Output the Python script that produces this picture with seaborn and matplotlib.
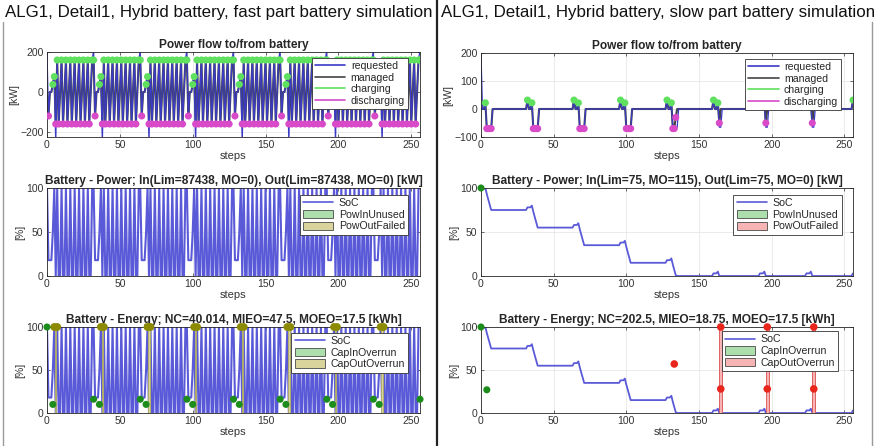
import numpy as np
import pandas as pd
import matplotlib
matplotlib.use("Agg")
import matplotlib.pyplot as plt
import seaborn as sns
from matplotlib.lines import Line2D
from matplotlib.patches import Patch

# ---- data --------------------------------------------------------------
STEPS = list(range(257))          # steps 0..256, one 32-step cycle repeated 8 times after step 0
N_CYCLES = 8

# fast part: one cycle (steps 32k+1 ... 32k+32)
FAST_REQ_CYCLE = [-120, 0, 0, 38, 77, -260,
                  160, -160, 0, 160, -160, 0, 160, -160, 0, 160, -160, 0,
                  160, -160, 0, 160, -160, 0, 160, -160, 0, 160, -160, 0,
                  160, 210]
FAST_MAN_CYCLE = [-120, 0, 0, 38, 77, -160,
                  160, -160, 0, 160, -160, 0, 160, -160, 0, 160, -160, 0,
                  160, -160, 0, 160, -160, 0, 160, -160, 0, 160, -160, 0,
                  160, 160]
FAST_SOC_CYCLE = [18, 18, 18, 50, 100, 0,
                  100, 0, 0, 100, 0, 0, 100, 0, 0, 100, 0, 0,
                  100, 0, 0, 100, 0, 0, 100, 0, 0, 100, 0, 0,
                  100, 100]
FAST_START = [200, 0, 100]        # requested, managed, SoC at step 0

FAST_CAPIN_STEPS = [0, 4, 32, 36, 64, 68, 96, 100, 128, 132, 160, 164, 192, 196, 224, 228, 256]
FAST_CAPIN_VALUES = [100, 10, 16, 10, 16, 10, 16, 10, 16, 10, 16, 10, 16, 10, 16, 10, 16]
FAST_CAPOUT_STEPS = [5, 7, 37, 39, 69, 71, 101, 103, 133, 135, 165, 167, 197, 199, 229, 231]
FAST_CAPOUT_VALUES = [100, 100, 100, 100, 100, 100, 100, 100, 100, 100, 100, 100, 100, 100, 100, 100]
FAST_CAPOUT_BARS = [6, 38, 70, 102, 134, 166, 198, 230]

# slow part: per-cycle events at cycle offsets 0..6 and 31, rest is 0
SLOW_EVENT_J = [0, 1, 2, 3, 4, 5, 6, 31]
SLOW_REQ_EVENTS = [
    [0, 0, 22, -70, -70, -70, -70, 32],
    [0, 0, 22, -70, -70, -70, -70, 32],
    [0, 0, 22, -70, -70, -70, -70, 32],
    [0, 0, 22, -70, -70, -70, -70, 32],
    [0, 0, 22, -70, -70, -70, -65, 32],
    [0, 0, 22, -65, -65, 0, 0, 32],
    [0, 0, 22, -65, -65, 0, 0, 32],
    [0, 0, 22, -65, -65, 0, 0, 32],
]
SLOW_MAN_EVENTS = [
    [0, 0, 22, -70, -70, -70, -70, 32],
    [0, 0, 22, -70, -70, -70, -70, 32],
    [0, 0, 22, -70, -70, -70, -70, 32],
    [0, 0, 22, -70, -70, -70, -70, 32],
    [0, 0, 22, -70, -70, -30, 0, 32],
    [0, 0, 22, -50, 0, 0, 0, 32],
    [0, 0, 22, -50, 0, 0, 0, 32],
    [0, 0, 22, -50, 0, 0, 0, 32],
]
SLOW_START = [200, 0]
SLOW_SOC_RUNS = [(100, 1), (99, 2), (100, 1), (93, 1), (87, 1), (81, 1), (75, 25),
                 (78, 3), (80, 1), (73, 1), (67, 1), (61, 1), (55, 25),
                 (58, 3), (60, 1), (53, 1), (47, 1), (41, 1), (35, 25),
                 (38, 3), (40, 1), (33, 1), (27, 1), (21, 1), (15, 25),
                 (18, 3), (20, 1), (13, 1), (7, 1), (1, 1), (0, 25),
                 (3, 3), (5, 1), (0, 28),
                 (3, 3), (5, 1), (0, 28),
                 (3, 3), (5, 1), (0, 28),
                 (3, 1)]
SLOW_POWIN_STEPS = [0]
SLOW_POWIN_VALUES = [100]
SLOW_CAPIN_STEPS = [0, 4]
SLOW_CAPIN_VALUES = [100, 27]
SLOW_CAPOUT_STEPS = [133, 165, 165, 197, 197, 229, 229]
SLOW_CAPOUT_VALUES = [57, 100, 28, 100, 28, 100, 28]
SLOW_CAPOUT_BARS = [165, 197, 229]

# ---- assemble series ----------------------------------------------------
fast = pd.DataFrame({
    "step": STEPS,
    "requested": [FAST_START[0]] + FAST_REQ_CYCLE * N_CYCLES,
    "managed": [FAST_START[1]] + FAST_MAN_CYCLE * N_CYCLES,
    "soc": [FAST_START[2]] + FAST_SOC_CYCLE * N_CYCLES,
})

slow_req = np.zeros(len(STEPS))
slow_man = np.zeros(len(STEPS))
slow_req[0], slow_man[0] = SLOW_START
for k in range(N_CYCLES):
    for j, vr, vm in zip(SLOW_EVENT_J, SLOW_REQ_EVENTS[k], SLOW_MAN_EVENTS[k]):
        slow_req[1 + 32 * k + j] = vr
        slow_man[1 + 32 * k + j] = vm
slow = pd.DataFrame({
    "step": STEPS,
    "requested": slow_req,
    "managed": slow_man,
    "soc": np.repeat([v for v, n in SLOW_SOC_RUNS], [n for v, n in SLOW_SOC_RUNS]),
})

# ---- style ----------------------------------------------------------------
sns.set_theme(style="whitegrid")
plt.rcParams["font.family"] = ["Liberation Sans", "DejaVu Sans"]
plt.rcParams["grid.color"] = "#e3e3e3"
plt.rcParams["grid.linewidth"] = 0.5

C_REQ = "#3b3bc6"
C_MAN = "#444444"
C_CHG = "#5fe05f"
C_DIS = "#d84ac8"
C_SOC = "#5a5ad8"
C_GREEN_DOT = "#1c8c1c"
C_OLIVE = "#8c8a00"
C_OLIVE_FILL = "#d8d49c"
C_RED = "#e8261c"
C_PINK = "#f7b4b4"
C_GREEN_FILL = "#addfad"

W, H = 874, 446
fig = plt.figure(figsize=(W / 100, H / 100), dpi=100)


def axes_px(x0, y0, x1, y1):
    return fig.add_axes([x0 / W, 1 - y1 / H, (x1 - x0) / W, (y1 - y0) / H])


def style(ax, title, ylabel, yticks, ylim, title_pad):
    ax.set_xlim(0, 256)
    ax.set_ylim(*ylim)
    ax.set_xticks([0, 50, 100, 150, 200, 250])
    ax.set_yticks(yticks)
    ax.set_title(title, fontsize=8.6, fontweight="bold", pad=title_pad)
    ax.set_xlabel("steps", fontsize=8, labelpad=0.5, color="#333333")
    ax.set_ylabel(ylabel, fontsize=7.5, labelpad=1, color="#333333")
    ax.tick_params(labelsize=7.5, colors="#333333", direction="in", length=2, width=0.5,
                   pad=2.5, bottom=True, left=True, top=True, right=True)
    for s in ax.spines.values():
        s.set_color("#262626")
        s.set_linewidth(0.6)
    ax.grid(True)


def legend(ax, handles, anchor):
    leg = ax.legend(handles=handles, loc="upper right", bbox_to_anchor=anchor,
                    fontsize=7.6, frameon=True, fancybox=False, framealpha=1,
                    edgecolor="#333333", borderpad=0.3, labelspacing=0.15,
                    handlelength=2.9, handleheight=0.85, handletextpad=0.5,
                    borderaxespad=0)
    leg.get_frame().set_linewidth(0.6)


def power_panel(ax, df, yticks, ylim):
    sns.lineplot(data=df, x="step", y="managed", ax=ax, color=C_MAN, linewidth=1.5,
                 estimator=None, sort=False)
    sns.lineplot(data=df, x="step", y="requested", ax=ax, color=C_REQ, linewidth=0.9,
                 estimator=None, sort=False)
    chg = df[df["managed"] > 0]
    dis = df[df["managed"] < 0]
    sns.scatterplot(x=chg["step"], y=chg["managed"], ax=ax, color=C_CHG, s=26,
                    edgecolor="none", zorder=5, legend=False)
    sns.scatterplot(x=dis["step"], y=dis["managed"], ax=ax, color=C_DIS, s=26,
                    edgecolor="none", zorder=5, legend=False)
    style(ax, "Power flow to/from battery", "[kW]", yticks, ylim, 3)
    legend(ax, [Line2D([], [], color=C_REQ, lw=1.2, label="requested"),
                Line2D([], [], color=C_MAN, lw=1.2, label="managed"),
                Line2D([], [], color=C_CHG, lw=1.2, label="charging"),
                Line2D([], [], color=C_DIS, lw=1.2, label="discharging")], (0.968, 0.93))


def soc_line(ax, df, lw):
    sns.lineplot(data=df, x="step", y="soc", ax=ax, color=C_SOC, linewidth=lw,
                 estimator=None, sort=False)


# ---- left: fast part ------------------------------------------------------
ax = axes_px(47, 52, 420, 137)
power_panel(ax, fast, [-200, 0, 200], (-225, 200))

ax = axes_px(47, 188, 420, 276)
soc_line(ax, fast, 1.5)
style(ax, "Battery - Power; In(Lim=87438, MO=0), Out(Lim=87438, MO=0) [kW]", "[%]",
      [0, 50, 100], (0, 100), 2.6)
legend(ax, [Line2D([], [], color=C_SOC, lw=1.2, label="SoC"),
            Patch(facecolor=C_GREEN_FILL, edgecolor="#4a4a4a", lw=0.6, label="PowInUnused"),
            Patch(facecolor=C_OLIVE_FILL, edgecolor="#4a4a4a", lw=0.6, label="PowOutFailed")],
       (0.968, 0.92))

ax = axes_px(47, 327, 420, 413)
soc_line(ax, fast, 1.5)
ax.bar(FAST_CAPOUT_BARS, 100, width=1.0, color=C_OLIVE_FILL, edgecolor="#b3ae5c",
       linewidth=0.6, zorder=3)
sns.scatterplot(x=FAST_CAPOUT_STEPS, y=FAST_CAPOUT_VALUES, ax=ax, color=C_OLIVE, s=32,
                edgecolor="none", zorder=6, legend=False, clip_on=False)
sns.scatterplot(x=FAST_CAPIN_STEPS, y=FAST_CAPIN_VALUES, ax=ax, color=C_GREEN_DOT, s=26,
                edgecolor="none", zorder=6, legend=False, clip_on=False)
style(ax, "Battery - Energy; NC=40.014, MIEO=47.5, MOEO=17.5 [kWh]", "[%]",
      [0, 50, 100], (0, 100), 2.6)
legend(ax, [Line2D([], [], color=C_SOC, lw=1.2, label="SoC"),
            Patch(facecolor=C_GREEN_FILL, edgecolor="#4a4a4a", lw=0.6, label="CapInOverrun"),
            Patch(facecolor=C_OLIVE_FILL, edgecolor="#4a4a4a", lw=0.6, label="CapOutOverrun")],
       (0.968, 0.93))

# ---- right: slow part -----------------------------------------------------
ax = axes_px(481, 53, 853, 137)
power_panel(ax, slow, [-100, 0, 100, 200], (-100, 200))

ax = axes_px(481, 188, 853, 276)
soc_line(ax, slow, 1.3)
sns.scatterplot(x=SLOW_POWIN_STEPS, y=SLOW_POWIN_VALUES, ax=ax, color=C_GREEN_DOT, s=26,
                edgecolor="none", zorder=6, legend=False, clip_on=False)
style(ax, "Battery - Power; In(Lim=75, MO=115), Out(Lim=75, MO=0) [kW]", "[%]",
      [0, 50, 100], (0, 100), 2.6)
legend(ax, [Line2D([], [], color=C_SOC, lw=1.2, label="SoC"),
            Patch(facecolor=C_GREEN_FILL, edgecolor="#4a4a4a", lw=0.6, label="PowInUnused"),
            Patch(facecolor=C_PINK, edgecolor="#4a4a4a", lw=0.6, label="PowOutFailed")],
       (0.97, 0.92))

ax = axes_px(481, 327, 853, 413)
soc_line(ax, slow, 1.3)
ax.bar(SLOW_CAPOUT_BARS, 100, width=2.0, color=C_PINK, edgecolor="#e06060",
       linewidth=0.7, zorder=3)
sns.scatterplot(x=SLOW_CAPOUT_STEPS, y=SLOW_CAPOUT_VALUES, ax=ax, color=C_RED, s=30,
                edgecolor="none", zorder=6, legend=False, clip_on=False)
sns.scatterplot(x=SLOW_CAPIN_STEPS, y=SLOW_CAPIN_VALUES, ax=ax, color=C_GREEN_DOT, s=26,
                edgecolor="none", zorder=6, legend=False, clip_on=False)
style(ax, "Battery - Energy; NC=202.5, MIEO=18.75, MOEO=17.5 [kWh]", "[%]",
      [0, 50, 100], (0, 100), 2.6)
legend(ax, [Line2D([], [], color=C_SOC, lw=1.2, label="SoC"),
            Patch(facecolor=C_GREEN_FILL, edgecolor="#4a4a4a", lw=0.6, label="CapInOverrun"),
            Patch(facecolor=C_PINK, edgecolor="#4a4a4a", lw=0.6, label="CapOutOverrun")],
       (0.96, 0.95))

# ---- window titles and frames ----------------------------------------------
fig.text(5 / W, 1 - 13 / H, "ALG1, Detail1, Hybrid battery, fast part battery simulation",
         fontsize=12.2, ha="left", va="center", color="#111111")
fig.text(441 / W, 1 - 13 / H, "ALG1, Detail1, Hybrid battery, slow part battery simulation",
         fontsize=12.2, ha="left", va="center", color="#111111")
fig.add_artist(Line2D([3 / W, 3 / W], [0, 1 - 22 / H], transform=fig.transFigure,
                      color="#9a9a9a", lw=1.0))
fig.add_artist(Line2D([437 / W, 437 / W], [0, 1], transform=fig.transFigure,
                      color="#222222", lw=1.6))
fig.add_artist(Line2D([872 / W, 872 / W], [0, 1 - 22 / H], transform=fig.transFigure,
                      color="#9a9a9a", lw=1.0))

fig.savefig("out.png", dpi=100, facecolor="white")
